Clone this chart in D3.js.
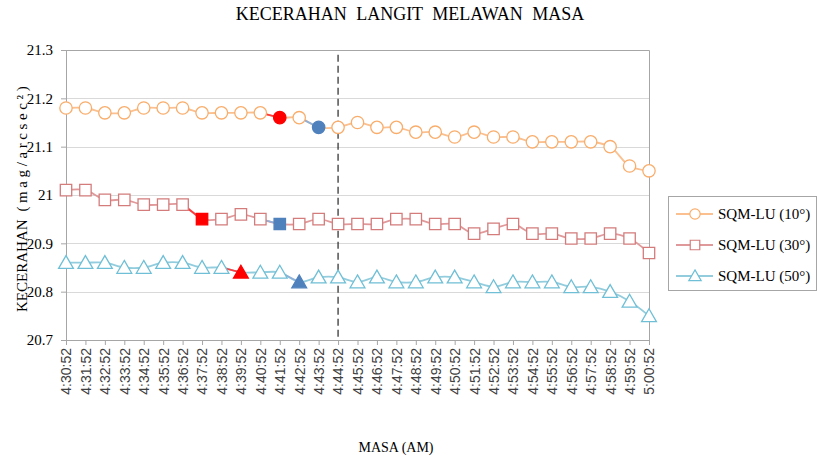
<!DOCTYPE html>
<html>
<head>
<meta charset="utf-8">
<script src="https://cdn.jsdelivr.net/npm/d3@7"></script>
<style>
body { margin: 0; background: #fff; }
svg text { font-family: "Liberation Serif", "Times New Roman", serif; }
</style>
</head>
<body>
<div id="chart"></div>
<script>
var times = ["4:30:52","4:31:52","4:32:52","4:33:52","4:34:52","4:35:52","4:36:52","4:37:52","4:38:52","4:39:52",
             "4:40:52","4:41:52","4:42:52","4:43:52","4:44:52","4:45:52","4:46:52","4:47:52","4:48:52","4:49:52",
             "4:50:52","4:51:52","4:52:52","4:53:52","4:54:52","4:55:52","4:56:52","4:57:52","4:58:52","4:59:52","5:00:52"];

var sqm10 = [21.18,21.18,21.17,21.17,21.18,21.18,21.18,21.17,21.17,21.17,21.17,21.16,21.16,21.14,21.14,21.15,
             21.14,21.14,21.13,21.13,21.12,21.13,21.12,21.12,21.11,21.11,21.11,21.11,21.10,21.06,21.05];
var sqm30 = [21.01,21.01,20.99,20.99,20.98,20.98,20.98,20.95,20.95,20.96,20.95,20.94,20.94,20.95,20.94,20.94,
             20.94,20.95,20.95,20.94,20.94,20.92,20.93,20.94,20.92,20.92,20.91,20.91,20.92,20.91,20.88];
var sqm50 = [20.86,20.86,20.86,20.85,20.85,20.86,20.86,20.85,20.85,20.84,20.84,20.84,20.82,20.83,20.83,20.82,
             20.83,20.82,20.82,20.83,20.83,20.82,20.81,20.82,20.82,20.82,20.81,20.81,20.80,20.78,20.75];

var seriesNames = ["SQM-LU (10°)", "SQM-LU (30°)", "SQM-LU (50°)"];
// index of the red and blue highlighted point in each series
var redIdx = [11, 7, 9];
var blueIdx = [13, 11, 12];
var yTicks = [20.7, 20.8, 20.9, 21, 21.1, 21.2, 21.3];
var markerIdx = 14; // dashed line at 4:44:52

function init(){

    var w = 819, h = 461;
    var pLeft = 66, pRight = 649, pTop = 50, pBottom = 340;

    var svg = d3.select("#chart").append("svg")
        .attr("width", w).attr("height", h);

    var xScale = d3.scalePoint()
        .domain(d3.range(times.length))
        .range([pLeft, pRight]);

    var yScale = d3.scaleLinear()
        .domain([20.7, 21.3])
        .range([pBottom, pTop]);

    // gridlines
    svg.append("g").selectAll("line")
        .data(yTicks.slice(1, -1))
        .enter().append("line")
        .attr("x1", pLeft).attr("x2", pRight)
        .attr("y1", function(d){ return Math.round(yScale(d)) + 0.5; })
        .attr("y2", function(d){ return Math.round(yScale(d)) + 0.5; })
        .attr("stroke", "#d9d9d9").attr("stroke-width", 1);

    // top & right border
    svg.append("path")
        .attr("d", "M" + pLeft + "," + (pTop + 0.5) + "H" + (pRight + 0.5) + "V" + pBottom)
        .attr("fill", "none").attr("stroke", "#a6a6a6");

    // y axis
    var yAxis = svg.append("g")
        .attr("transform", "translate(" + pLeft + ",0)")
        .call(d3.axisLeft(yScale).tickValues(yTicks).tickSize(5).tickPadding(8)
            .tickFormat(function(d){ return String(+d.toFixed(1)); }));
    yAxis.select(".domain").attr("stroke", "#a6a6a6");
    yAxis.selectAll(".tick line").attr("stroke", "#a6a6a6");
    yAxis.selectAll(".tick text")
        .style("font-family", "'Liberation Serif', serif")
        .style("font-size", "15px").attr("fill", "#000");

    // x axis
    var xAxis = svg.append("g")
        .attr("transform", "translate(0," + pBottom + ")")
        .call(d3.axisBottom(xScale).tickSize(5)
            .tickFormat(function(i){ return times[i]; }));
    xAxis.select(".domain").attr("stroke", "#a6a6a6");
    xAxis.selectAll(".tick line").attr("stroke", "#a6a6a6");
    xAxis.selectAll(".tick text")
        .style("font-family", "'Liberation Sans', Arial, sans-serif")
        .style("font-size", "14px").attr("fill", "#404040")
        .attr("transform", "rotate(-90)")
        .attr("text-anchor", "end")
        .attr("x", -8).attr("y", 0).attr("dy", "0.35em");

    // dashed vertical line
    svg.append("line")
        .attr("x1", xScale(markerIdx)).attr("x2", xScale(markerIdx))
        .attr("y1", yScale(21.29)).attr("y2", yScale(20.705))
        .attr("stroke", "#262626").attr("stroke-width", 1.2)
        .attr("stroke-dasharray", "7,4");

    var lineColors = ["#fac08f", "#e0999a", "#93cddd"];
    var markStroke = ["#f9ad6b", "#d47b7b", "#6fbfd6"];
    var shapes = [d3.symbolCircle, d3.symbolSquare, d3.symbolTriangle];
    var sizes = [120, 130, 95];
    var data = [sqm10, sqm30, sqm50];

    var line = d3.line()
        .x(function(d, i){ return xScale(i); })
        .y(function(d){ return yScale(d); })
        .curve(d3.curveCatmullRom);

    data.forEach(function(vals, s){
        var g = svg.append("g");
        g.append("path")
            .datum(vals)
            .attr("d", line)
            .attr("fill", "none")
            .attr("stroke", lineColors[s])
            .attr("stroke-width", 1.8);

        // coloured segments into the highlighted points
        [[redIdx[s], "#ff3b3b"], [blueIdx[s], "#8fb0d8"]].forEach(function(p){
            var k = p[0];
            g.append("line")
                .attr("x1", xScale(k - 1)).attr("y1", yScale(vals[k - 1]))
                .attr("x2", xScale(k)).attr("y2", yScale(vals[k]))
                .attr("stroke", p[1]).attr("stroke-width", 1.8);
        });

        g.selectAll("path.mark")
            .data(vals)
            .enter().append("path")
            .attr("class", "mark")
            .attr("transform", function(d, i){
                var dy = s == 2 ? 1.5 : 0;
                return "translate(" + xScale(i) + "," + (yScale(d) + dy) + ")";
            })
            .attr("d", d3.symbol().type(shapes[s]).size(sizes[s]))
            .attr("fill", function(d, i){
                if (i == redIdx[s]) return "#ff0000";
                if (i == blueIdx[s]) return "#4f81bd";
                return "#fff";
            })
            .attr("stroke", function(d, i){
                if (i == redIdx[s]) return "#ff0000";
                if (i == blueIdx[s]) return "#4f81bd";
                return markStroke[s];
            })
            .attr("stroke-width", 1.3);
    });

    // title and axis labels
    svg.append("text")
        .attr("x", 410).attr("y", 20)
        .attr("text-anchor", "middle")
        .style("font-size", "18px")
        .style("word-spacing", "5px")
        .text("KECERAHAN LANGIT MELAWAN MASA");

    var yTitle = svg.append("text")
        .attr("transform", "translate(27,312) rotate(-90)")
        .attr("text-anchor", "start")
        .style("font-size", "15px");
    yTitle.append("tspan").text("KECERAHAN");
    yTitle.append("tspan").attr("dx", 8)
        .style("letter-spacing", "3.6px")
        .text("(mag/arcsec²)");

    svg.append("text")
        .attr("x", 396).attr("y", 452)
        .attr("text-anchor", "middle")
        .style("font-size", "14px")
        .text("MASA (AM)");

    // legend
    var legend = svg.append("g");
    legend.append("rect")
        .attr("x", 668.5).attr("y", 196.5)
        .attr("width", 148).attr("height", 94)
        .attr("fill", "#fff").attr("stroke", "#a6a6a6");

    seriesNames.forEach(function(name, s){
        var ly = 214 + s * 31;
        legend.append("line")
            .attr("x1", 676).attr("x2", 713)
            .attr("y1", ly).attr("y2", ly)
            .attr("stroke", lineColors[s]).attr("stroke-width", 1.8);
        legend.append("path")
            .attr("transform", "translate(695," + (ly + (s == 2 ? 1 : 0)) + ")")
            .attr("d", d3.symbol().type(shapes[s]).size(sizes[s] * 0.7))
            .attr("fill", "#fff").attr("stroke", markStroke[s]).attr("stroke-width", 1.2);
        legend.append("text")
            .attr("x", 718).attr("y", ly + 5)
            .style("font-size", "15px")
            .text(name);
    });
}
window.onload = init;
</script>
</body>
</html>
